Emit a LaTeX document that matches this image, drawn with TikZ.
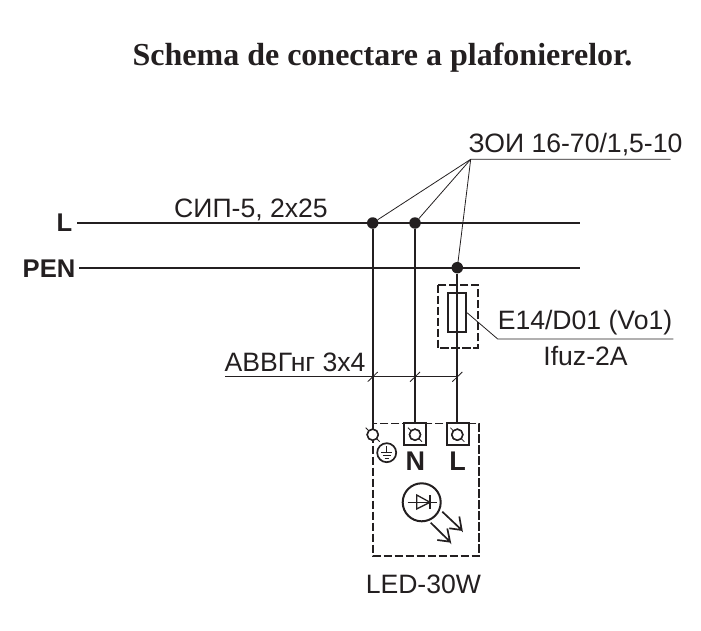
\documentclass[tikz,border=0pt]{standalone}
\usepackage{fontspec}
\usetikzlibrary{calc}
\setmainfont{Liberation Sans}
\newfontfamily\titlefont{Liberation Serif}
\definecolor{ink}{HTML}{231F20}
\tikzset{
  txt/.style={inner sep=0pt,anchor=base,text=ink,font=\fontsize{26.6}{26.6}\selectfont},
  boldtxt/.style={txt,font=\fontsize{25.6}{25.6}\selectfont\bfseries},
  termtxt/.style={txt,font=\fontsize{27}{27}\selectfont\bfseries},
  wire/.style={draw=ink,line width=1.9pt},
  thin leader/.style={draw=ink,line width=0.8pt},
  dashbox/.style={draw=ink,line width=1.7pt,dash pattern=on 8.3pt off 2.7pt},
  joint/.style={circle,fill=ink,inner sep=0pt,minimum size=11.5pt},
  clamp/.style={circle,draw=ink,fill=white,line width=1.5pt,inner sep=0pt,minimum size=11pt},
  termbox/.style={draw=ink,line width=1.9pt,minimum size=22pt,inner sep=0pt},
  symb/.style={draw=ink,line width=1.7pt},
}
\begin{document}
\begin{tikzpicture}[x=1pt,y=-1pt]
\useasboundingbox (0,0) rectangle (701,631);
% title
\node[txt,font=\fontsize{32}{32}\selectfont\titlefont\bfseries] (title) at (382.5,66) {Schema de conectare a plafonierelor.};
% bus labels
\node[boldtxt] (labL) at (64.5,231) {L};
\node[boldtxt] (labPEN) at (49,277.5) {PEN};
\coordinate (LS) at (77,223); \coordinate (LE) at (580,223);
\coordinate (PS) at (79,267.7); \coordinate (PE) at (580,267.7);
\draw[wire] (LS) -- (LE);
\draw[wire] (PS) -- (PE);
% joints
\node[joint] (j1) at (372.7,223) {};
\node[joint] (j2) at (415,223) {};
\node[joint] (j3) at (457.3,267.7) {};
% LED box
\draw[dashbox] (372.7,423.5) rectangle (479.3,555.7);
% terminals
\node[termbox] (tN) at (415.3,434.4) {};
\node[termbox] (tL) at (457.7,434.4) {};
% wires
\draw[wire] (j1) -- (372.7,428);
\coordinate (wN) at (415,423.5); \coordinate (wL) at (457.3,423.5);
\draw[wire] (j2) -- (wN);
\draw[wire] (j3) -- (wL);
% clamps
\node[clamp] (c1) at (372.7,434.7) {};
\node[clamp] (c2) at (415,434.7) {};
\node[clamp] (c3) at (457.3,434.7) {};
\foreach \c in {c1,c2,c3}{
  \draw[thin leader] ($(\c)+(-7,-7)$) -- ($(\c)+(7,7)$);
  \node[clamp] at (\c) {};
}
% cable ticks
\coordinate (cs) at (225,376.7); \coordinate (ce) at (457.3,376.7);
\draw[thin leader] (cs) -- (ce);
\foreach \x in {372.7,415,457.3}
  \draw[thin leader] (\x-5,381.7) -- (\x+5,372);
% top leader
\coordinate (ap) at (470.7,159.3);
\coordinate (apE) at (670.7,159.3);
\draw[thin leader] (apE) -- (ap) -- (j1);
\draw[thin leader] (ap) -- (j2);
\draw[thin leader] (ap) -- (j3);
% fuse
\draw[dashbox] (437.7,284.7) rectangle (477.7,348);
\node[draw=ink,line width=1.7pt,minimum width=18pt,minimum height=39pt,inner sep=0pt] (fuse) at (457.3,312.8) {};
\coordinate (fl1) at (497.7,339); \coordinate (fl2) at (673.3,339);
\draw[thin leader] (fuse.east) -- (fl1) -- (fl2);
% ground
\node[circle,symb,inner sep=0pt,minimum size=19pt] (gnd) at (386.7,452.7) {};
\draw[thin leader] (386.7,446) -- (386.7,452.5) (381,452.5) -- (392.4,452.5) (382.8,455.3) -- (390.6,455.3) (384.6,458.1) -- (388.8,458.1);
% LED
\node[circle,draw=ink,line width=2pt,inner sep=0pt,minimum size=38pt] (led) at (421.7,502.3) {};
\draw[thin leader,line width=1.1pt] (407.7,502.3) -- (436.7,502.3);
\draw[thin leader,line width=1.3pt] (430,495) -- (430,509);
\draw[thin leader,line width=1.3pt] (416.7,495) -- (416.7,509) -- (430,502.3) -- cycle;
\draw[symb] (442.3,511.7) -- (461.7,530) -- (459.3,516.5) (461.7,530) -- (449.3,528.3);
\draw[symb] (430.7,522.7) -- (450,541.7) -- (447.3,528.5) (450,541.7) -- (437.3,540);
% texts
\node[txt] (t1) at (575.5,153) {ЗОИ 16-70/1,5-10};
\node[txt] (t2) at (251,217) {СИП-5, 2х25};
\node[txt] (t3) at (295,371.7) {АВВГнг 3х4};
\node[txt] (t4) at (585,329) {E14/D01 (Vo1)};
\node[txt] (t5) at (585.5,365) {Ifuz-2A};
\node[txt] (t6) at (423.4,593.3) {LED-30W};
\node[termtxt] (tNl) at (415.3,470.5) {N};
\node[termtxt] (tLl) at (457.5,470.5) {L};
\end{tikzpicture}
\end{document}
